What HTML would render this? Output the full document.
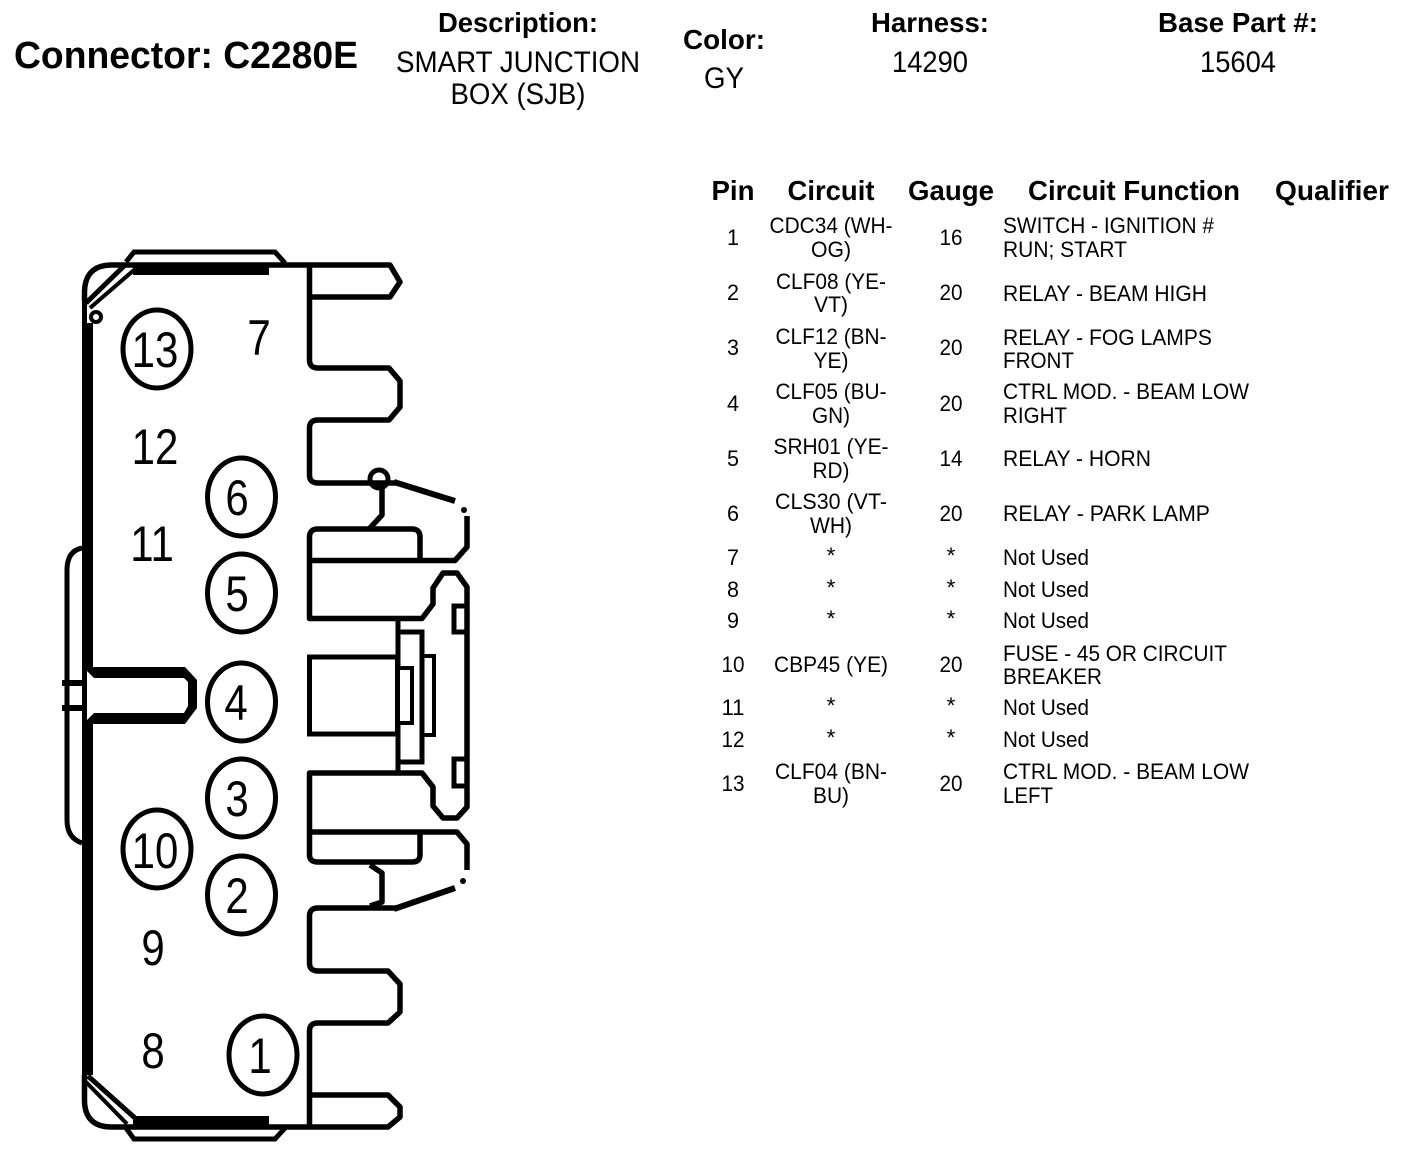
<!DOCTYPE html>
<html><head><meta charset="utf-8"><style>
html,body{margin:0;padding:0;background:#fff}
svg{display:block}
text{font-family:"Liberation Sans",sans-serif;fill:#000}
.b{font-weight:bold;font-size:28px;text-anchor:middle}
.h{font-size:30px;text-anchor:middle}
.t{font-size:22.500px}
.c{font-size:22.500px;text-anchor:middle}
.d{font-size:50px;text-anchor:middle}
.l{fill:none;stroke:#000;stroke-width:5.500;stroke-linejoin:round}
</style></head><body>
<svg width="1408" height="1160" viewBox="0 0 1408 1160" xmlns="http://www.w3.org/2000/svg">
<rect width="1408" height="1160" fill="#fff"/>
<text x="14" y="68" font-weight="bold" font-size="38" textLength="344" lengthAdjust="spacingAndGlyphs">Connector: C2280E</text>
<text class="b" x="518" y="32" textLength="160" lengthAdjust="spacingAndGlyphs">Description:</text>
<text class="h" x="518" y="72" textLength="244" lengthAdjust="spacingAndGlyphs">SMART JUNCTION</text>
<text class="h" x="518" y="104" textLength="135" lengthAdjust="spacingAndGlyphs">BOX (SJB)</text>
<text class="b" x="724" y="49" textLength="82" lengthAdjust="spacingAndGlyphs">Color:</text>
<text class="h" x="724" y="88" textLength="40" lengthAdjust="spacingAndGlyphs">GY</text>
<text class="b" x="930" y="32" textLength="118" lengthAdjust="spacingAndGlyphs">Harness:</text>
<text class="h" x="930" y="72" textLength="76" lengthAdjust="spacingAndGlyphs">14290</text>
<text class="b" x="1238" y="32" textLength="160" lengthAdjust="spacingAndGlyphs">Base Part #:</text>
<text class="h" x="1238" y="72" textLength="76" lengthAdjust="spacingAndGlyphs">15604</text>

<text class="b" x="733" y="200" textLength="43" lengthAdjust="spacingAndGlyphs">Pin</text>
<text class="b" x="831" y="200" textLength="87" lengthAdjust="spacingAndGlyphs">Circuit</text>
<text class="b" x="951" y="200" textLength="86" lengthAdjust="spacingAndGlyphs">Gauge</text>
<text class="b" x="1134" y="200" textLength="212" lengthAdjust="spacingAndGlyphs">Circuit Function</text>
<text class="b" x="1332" y="200" textLength="114" lengthAdjust="spacingAndGlyphs">Qualifier</text>

<text class="c" x="733" y="245" textLength="12" lengthAdjust="spacingAndGlyphs">1</text><text class="c" x="831" y="233" textLength="123" lengthAdjust="spacingAndGlyphs">CDC34 (WH-</text><text class="c" x="831" y="257" textLength="40" lengthAdjust="spacingAndGlyphs">OG)</text><text class="c" x="951" y="245" textLength="23" lengthAdjust="spacingAndGlyphs">16</text>
<text class="t" x="1003" y="233" textLength="211" lengthAdjust="spacingAndGlyphs">SWITCH - IGNITION #</text><text class="t" x="1003" y="257" textLength="124" lengthAdjust="spacingAndGlyphs">RUN; START</text>

<text class="c" x="733" y="300" textLength="12" lengthAdjust="spacingAndGlyphs">2</text><text class="c" x="831" y="289" textLength="110" lengthAdjust="spacingAndGlyphs">CLF08 (YE-</text><text class="c" x="831" y="312" textLength="34" lengthAdjust="spacingAndGlyphs">VT)</text><text class="c" x="951" y="300" textLength="23" lengthAdjust="spacingAndGlyphs">20</text>
<text class="t" x="1003" y="301" textLength="204" lengthAdjust="spacingAndGlyphs">RELAY - BEAM HIGH</text>

<text class="c" x="733" y="355" textLength="12" lengthAdjust="spacingAndGlyphs">3</text><text class="c" x="831" y="344" textLength="111" lengthAdjust="spacingAndGlyphs">CLF12 (BN-</text><text class="c" x="831" y="368" textLength="35" lengthAdjust="spacingAndGlyphs">YE)</text><text class="c" x="951" y="355" textLength="23" lengthAdjust="spacingAndGlyphs">20</text>
<text class="t" x="1003" y="345" textLength="209" lengthAdjust="spacingAndGlyphs">RELAY - FOG LAMPS</text><text class="t" x="1003" y="368" textLength="71" lengthAdjust="spacingAndGlyphs">FRONT</text>

<text class="c" x="733" y="411" textLength="12" lengthAdjust="spacingAndGlyphs">4</text><text class="c" x="831" y="399" textLength="111" lengthAdjust="spacingAndGlyphs">CLF05 (BU-</text><text class="c" x="831" y="423" textLength="38" lengthAdjust="spacingAndGlyphs">GN)</text><text class="c" x="951" y="411" textLength="23" lengthAdjust="spacingAndGlyphs">20</text>
<text class="t" x="1003" y="399" textLength="246" lengthAdjust="spacingAndGlyphs">CTRL MOD. - BEAM LOW</text><text class="t" x="1003" y="423" textLength="64" lengthAdjust="spacingAndGlyphs">RIGHT</text>

<text class="c" x="733" y="466" textLength="12" lengthAdjust="spacingAndGlyphs">5</text><text class="c" x="831" y="454" textLength="115" lengthAdjust="spacingAndGlyphs">SRH01 (YE-</text><text class="c" x="831" y="478" textLength="37" lengthAdjust="spacingAndGlyphs">RD)</text><text class="c" x="951" y="466" textLength="23" lengthAdjust="spacingAndGlyphs">14</text>
<text class="t" x="1003" y="466" textLength="148" lengthAdjust="spacingAndGlyphs">RELAY - HORN</text>

<text class="c" x="733" y="521" textLength="12" lengthAdjust="spacingAndGlyphs">6</text><text class="c" x="831" y="509" textLength="112" lengthAdjust="spacingAndGlyphs">CLS30 (VT-</text><text class="c" x="831" y="533" textLength="42" lengthAdjust="spacingAndGlyphs">WH)</text><text class="c" x="951" y="521" textLength="23" lengthAdjust="spacingAndGlyphs">20</text>
<text class="t" x="1003" y="521" textLength="207" lengthAdjust="spacingAndGlyphs">RELAY - PARK LAMP</text>

<text class="c" x="733" y="565" textLength="12" lengthAdjust="spacingAndGlyphs">7</text><text class="c" x="831" y="563">*</text><text class="c" x="951" y="563">*</text><text class="t" x="1003" y="565" textLength="86" lengthAdjust="spacingAndGlyphs">Not Used</text>
<text class="c" x="733" y="597" textLength="12" lengthAdjust="spacingAndGlyphs">8</text><text class="c" x="831" y="595">*</text><text class="c" x="951" y="595">*</text><text class="t" x="1003" y="597" textLength="86" lengthAdjust="spacingAndGlyphs">Not Used</text>
<text class="c" x="733" y="628" textLength="12" lengthAdjust="spacingAndGlyphs">9</text><text class="c" x="831" y="626">*</text><text class="c" x="951" y="626">*</text><text class="t" x="1003" y="628" textLength="86" lengthAdjust="spacingAndGlyphs">Not Used</text>

<text class="c" x="733" y="672" textLength="23" lengthAdjust="spacingAndGlyphs">10</text><text class="c" x="831" y="672" textLength="114" lengthAdjust="spacingAndGlyphs">CBP45 (YE)</text><text class="c" x="951" y="672" textLength="23" lengthAdjust="spacingAndGlyphs">20</text>
<text class="t" x="1003" y="661" textLength="224" lengthAdjust="spacingAndGlyphs">FUSE - 45 OR CIRCUIT</text><text class="t" x="1003" y="684" textLength="99" lengthAdjust="spacingAndGlyphs">BREAKER</text>

<text class="c" x="733" y="715" textLength="23" lengthAdjust="spacingAndGlyphs">11</text><text class="c" x="831" y="713">*</text><text class="c" x="951" y="713">*</text><text class="t" x="1003" y="715" textLength="86" lengthAdjust="spacingAndGlyphs">Not Used</text>
<text class="c" x="733" y="747" textLength="23" lengthAdjust="spacingAndGlyphs">12</text><text class="c" x="831" y="745">*</text><text class="c" x="951" y="745">*</text><text class="t" x="1003" y="747" textLength="86" lengthAdjust="spacingAndGlyphs">Not Used</text>

<text class="c" x="733" y="791" textLength="23" lengthAdjust="spacingAndGlyphs">13</text><text class="c" x="831" y="779" textLength="112" lengthAdjust="spacingAndGlyphs">CLF04 (BN-</text><text class="c" x="831" y="803" textLength="36" lengthAdjust="spacingAndGlyphs">BU)</text><text class="c" x="951" y="791" textLength="23" lengthAdjust="spacingAndGlyphs">20</text>
<text class="t" x="1003" y="779" textLength="246" lengthAdjust="spacingAndGlyphs">CTRL MOD. - BEAM LOW</text><text class="t" x="1003" y="803" textLength="50" lengthAdjust="spacingAndGlyphs">LEFT</text>

<!-- connector body -->
<path class="l" d="M84.500 300V293Q84.500 265 112 265H390L400 282L390 297H310"/>
<path class="l" d="M309.500 267V360Q309.500 368 318 368H389L400 381V407L389 420H318Q309.500 420 309.500 428V475Q309.500 483 318 483H398"/>
<path d="M394 482L455 501" fill="none" stroke="#000" stroke-width="6"/>
<circle cx="379" cy="479" r="9" fill="none" stroke="#000" stroke-width="5"/>
<path class="l" d="M382 488V515L370 528"/>
<path class="l" d="M309.500 537Q309.500 529 318 529H412Q420 529 420 537V560"/>
<path class="l" d="M309.500 537V618.500H422L433 604V588L443 573H457L467 587V807L457 818H443L433 806V787L422 773H309.500V855Q309.500 862 318 862H412Q420 862 420 855V832"/>
<path class="l" d="M312 560.500H455L467 547V516"/>
<circle cx="464" cy="510" r="3" fill="#000"/>
<path class="l" d="M312 832H457L467 844V870"/>
<circle cx="463" cy="881" r="3" fill="#000"/>
<path class="l" d="M370 865L382 873V902L370 906"/>
<path class="l" d="M398 908H318Q309.500 908 309.500 916V963Q309.500 971 318 971H388L400 984V1012L388 1023H318Q309.500 1023 309.500 1031V1127"/>
<path d="M394 909L455 888" fill="none" stroke="#000" stroke-width="6"/>
<path class="l" d="M312 1095H388L400 1107V1117L388 1127H112Q84.500 1127 84.500 1100V1075"/>

<!-- left wall -->
<rect x="82" y="323" width="11" height="752" fill="#000"/>
<rect x="82" y="295" width="5" height="30" fill="#000"/>
<!-- top corner -->
<path d="M86 303L126 264" fill="none" stroke="#000" stroke-width="5"/>
<path d="M90 308L134 270" fill="none" stroke="#000" stroke-width="4"/>
<circle cx="96" cy="317" r="5" fill="#fff" stroke="#000" stroke-width="4"/>
<path d="M126 262L134 252H275L285 263" fill="none" stroke="#000" stroke-width="5"/>
<rect x="133" y="264" width="136" height="11" fill="#000"/>
<!-- bottom corner -->
<path d="M88 1076L135 1118" fill="none" stroke="#000" stroke-width="5"/>
<path d="M86 1082L127 1124" fill="none" stroke="#000" stroke-width="4"/>
<path d="M126 1128L134 1139H275L285 1128" fill="none" stroke="#000" stroke-width="5"/>
<rect x="133" y="1116" width="136" height="9" fill="#000"/>
<!-- bulge -->
<path d="M82 548Q67 551 67 570V820Q67 838 82 843" fill="none" stroke="#000" stroke-width="5"/>
<!-- notch -->
<rect x="62" y="680" width="22" height="6" fill="#000"/>
<rect x="62" y="705" width="22" height="6" fill="#000"/>
<path d="M90 667H185L197 680V708L185 724H90Z" fill="#000"/>
<path d="M87 671L94 678H184L188 682V706L184 713H94L87 720Z" fill="#fff"/>

<!-- center block -->
<rect x="309.500" y="657" width="88" height="77" fill="none" stroke="#000" stroke-width="5"/>
<path d="M398 618V773" stroke="#000" stroke-width="5" fill="none"/>
<rect x="398" y="632" width="24" height="130" fill="none" stroke="#000" stroke-width="5"/>
<rect x="398" y="668" width="14" height="55" fill="#fff" stroke="#000" stroke-width="4"/>
<rect x="422" y="656" width="12" height="79" fill="none" stroke="#000" stroke-width="4"/>
<path d="M467 606H454V632H467M467 759H454V786H467" fill="none" stroke="#000" stroke-width="5"/>

<!-- pin circles -->
<g fill="#fff" stroke="#000" stroke-width="5">
<ellipse cx="157" cy="349" rx="34" ry="39"/>
<ellipse cx="241.500" cy="497" rx="34" ry="39"/>
<ellipse cx="241.500" cy="593" rx="34" ry="39"/>
<ellipse cx="241.500" cy="702" rx="34" ry="39"/>
<ellipse cx="241.500" cy="798" rx="34" ry="39"/>
<ellipse cx="157" cy="849" rx="34" ry="39"/>
<ellipse cx="241.500" cy="895" rx="34" ry="39"/>
<ellipse cx="263" cy="1055" rx="34" ry="39"/>
</g>
<g>
<text class="d" transform="translate(155 367) scale(.84 1)">13</text>
<text class="d" transform="translate(259 355) scale(.84 1)">7</text>
<text class="d" transform="translate(155 464) scale(.84 1)">12</text>
<text class="d" transform="translate(237 515) scale(.84 1)">6</text>
<text class="d" transform="translate(152 561) scale(.84 1)">11</text>
<text class="d" transform="translate(237 611) scale(.84 1)">5</text>
<text class="d" transform="translate(236 720) scale(.84 1)">4</text>
<text class="d" transform="translate(237 816) scale(.84 1)">3</text>
<text class="d" transform="translate(155 868) scale(.84 1)">10</text>
<text class="d" transform="translate(237 913) scale(.84 1)">2</text>
<text class="d" transform="translate(153 965) scale(.84 1)">9</text>
<text class="d" transform="translate(153 1068) scale(.84 1)">8</text>
<text class="d" transform="translate(260 1073) scale(.84 1)">1</text>
</g>
</svg>
</body></html>
